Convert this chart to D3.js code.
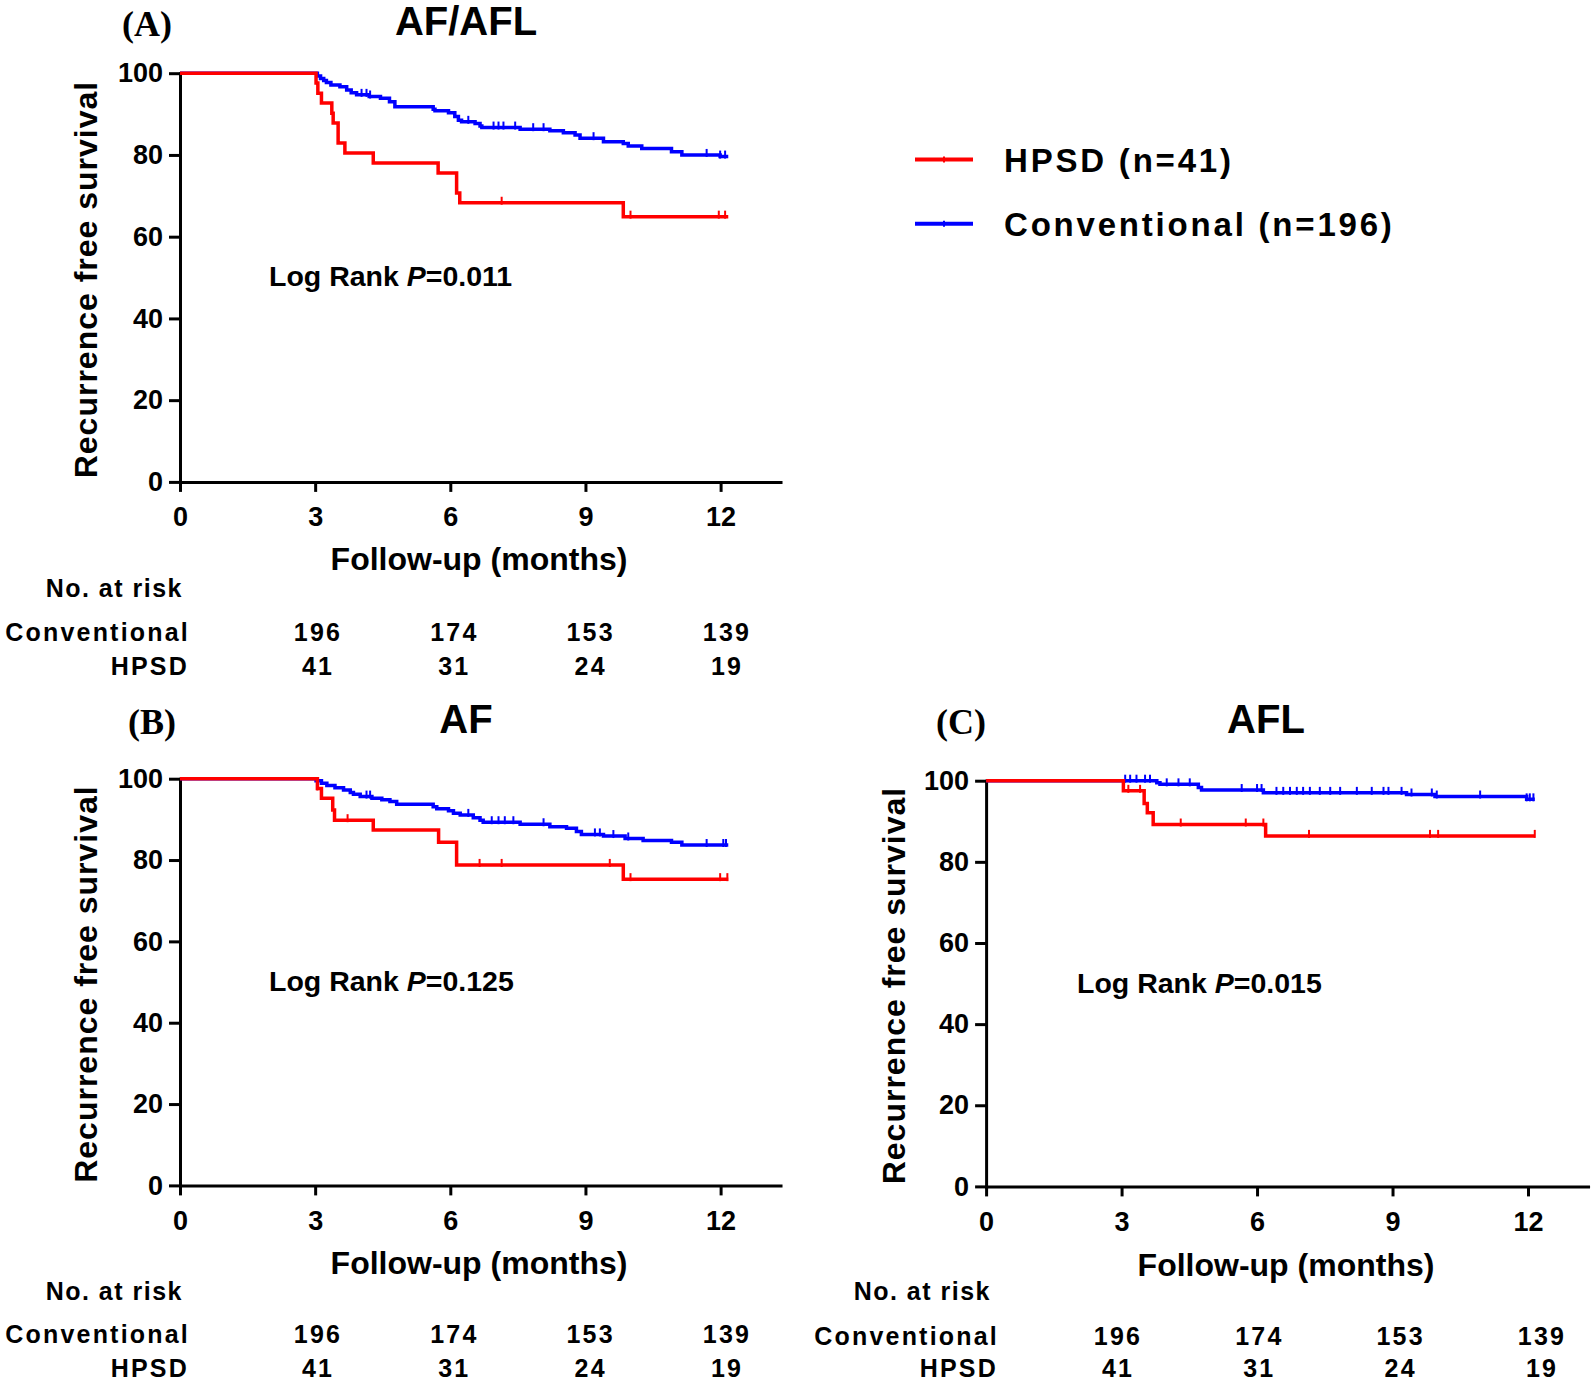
<!DOCTYPE html>
<html>
<head>
<meta charset="utf-8">
<script src="https://cdn.jsdelivr.net/npm/d3@7"></script>
<style>
  html, body { margin: 0; padding: 0; background: #fff; }
  svg { display: block; }
  text { font-family: "Liberation Sans", Arial, sans-serif; font-weight: bold; fill: #000; }
</style>
</head>
<body>
<script>
// ---------------- DATA ----------------
const xTicks = [0, 3, 6, 9, 12];
const yTicks = [0, 20, 40, 60, 80, 100];
const xAxisMax = 13.33;
const riskTimes = [3, 6, 9, 12];
const riskConventional = [196, 174, 153, 139];
const riskHPSD = [41, 31, 24, 19];
const legendLabels = ["HPSD (n=41)", "Conventional (n=196)"];
const panelLetters = ["(A)", "(B)", "(C)"];
const panelTitles = ["AF/AFL", "AF", "AFL"];
const pValues = ["0.011", "0.125", "0.015"];

// Panel A: AF/AFL  [month, survival %]
const afaflHPSD = [[0,100],[3.02,97.6],[3.06,95.1],[3.14,92.7],[3.37,90.2],[3.40,87.8],[3.51,82.9],[3.66,80.5],[4.29,78.0],[5.73,75.6],[6.14,70.7],[6.21,68.3],[9.84,64.9],[12.17,64.9]];
const afaflConv = [[0,100],[3.05,99.3],[3.12,98.7],[3.19,98.2],[3.25,97.7],[3.35,97.1],[3.55,96.7],[3.70,95.9],[3.80,95.2],[3.92,94.7],[4.20,94.3],[4.45,93.9],[4.65,93.0],[4.77,91.8],[5.62,91.2],[5.66,90.8],[5.96,90.3],[6.10,89.4],[6.18,88.5],[6.25,88.1],[6.55,87.7],[6.66,87.1],[6.70,86.7],[7.55,86.3],[8.21,85.9],[8.51,85.4],[8.77,84.9],[8.88,84.1],[9.40,83.2],[9.84,82.8],[9.95,82.2],[10.25,81.6],[10.91,80.8],[11.14,80.0],[11.99,79.6],[12.17,79.6]];
const afaflHPSDCensor = [7.14, 10.0, 11.96, 12.1];
const afaflConvCensor = [4.03, 4.14, 4.22, 6.40, 6.96, 7.07, 7.18, 7.44, 7.84, 8.07, 9.18, 11.69, 11.99, 12.1];

// Panel B: AF
const afHPSD = [[0,100],[3.05,97.6],[3.14,95.2],[3.39,92.3],[3.43,89.8],[4.29,87.4],[5.74,84.4],[6.14,78.8],[9.84,75.3],[12.17,75.3]];
const afConv = [[0,100],[3.02,99.5],[3.14,98.9],[3.26,98.3],[3.44,97.8],[3.63,97.2],[3.78,96.6],[3.85,96.2],[4.00,95.6],[4.26,95.2],[4.48,94.8],[4.66,94.4],[4.81,93.7],[5.62,93.1],[5.70,92.6],[5.96,92.1],[6.07,91.5],[6.22,91.1],[6.51,90.4],[6.66,89.8],[6.73,89.3],[7.55,88.8],[8.21,88.2],[8.58,87.8],[8.80,87.0],[8.91,86.3],[9.40,85.9],[9.88,85.3],[10.28,84.8],[10.91,84.4],[11.14,83.7],[12.17,83.7]];
const afHPSDCensor = [3.05, 3.72, 6.65, 7.14, 9.54, 10.0, 11.99, 12.15];
const afConvCensor = [4.14, 4.22, 6.40, 6.92, 7.07, 7.21, 7.40, 8.07, 9.21, 9.32, 9.62, 9.95, 11.69, 12.06, 12.12];

// Panel C: AFL
const aflHPSD = [[0,100],[3.04,97.5],[3.50,94.4],[3.57,92.1],[3.70,89.2],[6.19,86.4],[12.15,86.4]];
const aflConv = [[0,100],[3.78,99.5],[3.85,99.1],[4.70,98.3],[4.77,97.7],[6.14,97.0],[9.31,96.6],[9.94,96.1],[11.97,95.4],[12.15,95.4]];
const aflHPSDCensor = [3.15, 3.41, 4.31, 5.75, 6.14, 7.15, 9.83, 10.01, 12.15];
const aflConvCensor = [3.08, 3.19, 3.33, 3.52, 3.63, 4.0, 4.26, 4.51, 5.66, 6.0, 6.10, 6.43, 6.58, 6.73, 6.88, 7.02, 7.17, 7.39, 7.62, 7.84, 8.21, 8.54, 8.80, 8.91, 9.20, 9.42, 9.87, 9.98, 10.94, 11.97, 12.04, 12.12];

// ---------------- LAYOUT ----------------
const RED = "#ff0000", BLUE = "#0000ff";
const svg = d3.select("body").append("svg").attr("width", 1594).attr("height", 1384);

const panels = [
  { hpsd: afaflHPSD, conv: afaflConv, hc: afaflHPSDCensor, cc: afaflConvCensor,
    x0: 180, x12: 720.6, y0: 481.9, y100: 73.2,
    letterX: 147, titleX: 466, titleY: 35,
    ylabX: 97, logX: 269, logY: 286, xlabX: 479, xlabY: 570,
    riskLabelR: 190, riskNoR: 183, riskNoY: 597, riskCY: 641, riskHY: 674.5, riskX: [318, 727] },
  { hpsd: afHPSD, conv: afConv, hc: afHPSDCensor, cc: afConvCensor,
    x0: 180, x12: 720.6, y0: 1185.4, y100: 778.7,
    letterX: 152, titleX: 466, titleY: 733,
    ylabX: 97, logX: 269, logY: 991, xlabX: 479, xlabY: 1274,
    riskLabelR: 190, riskNoR: 183, riskNoY: 1299.5, riskCY: 1343, riskHY: 1377, riskX: [318, 727] },
  { hpsd: aflHPSD, conv: aflConv, hc: aflHPSDCensor, cc: aflConvCensor,
    x0: 986.1, x12: 1528, y0: 1186.4, y100: 780.7,
    letterX: 961, titleX: 1266, titleY: 733,
    ylabX: 905, logX: 1077, logY: 993, xlabX: 1286, xlabY: 1276,
    riskLabelR: 999, riskNoR: 991, riskNoY: 1299.5, riskCY: 1345, riskHY: 1377, riskX: [1118, 1542] }
];

panels.forEach((p, i) => {
  const x = d3.scaleLinear().domain([0, 12]).range([p.x0, p.x12]);
  const y = d3.scaleLinear().domain([0, 100]).range([p.y0, p.y100]);
  const g = svg.append("g");

  // titles
  g.append("text").attr("x", p.letterX).attr("y", p.titleY + 1).attr("text-anchor", "middle")
    .style("font-family", "'Liberation Serif', 'Times New Roman', serif").style("font-size", "36px")
    .text(panelLetters[i]);
  g.append("text").attr("x", p.titleX).attr("y", p.titleY).attr("text-anchor", "middle")
    .style("font-size", "40px").text(panelTitles[i]);

  // x axis
  const xAx = d3.scaleLinear().domain([0, xAxisMax]).range([p.x0, x(xAxisMax)]);
  const gx = g.append("g").attr("transform", `translate(0,${p.y0})`)
    .call(d3.axisBottom(xAx).tickValues(xTicks).tickSize(10).tickSizeOuter(0).tickPadding(15));
  // y axis
  const gy = g.append("g").attr("transform", `translate(${p.x0},0)`)
    .call(d3.axisLeft(y).tickValues(yTicks).tickSize(11).tickSizeOuter(0).tickPadding(6));
  [gx, gy].forEach(a => {
    a.select(".domain").attr("stroke", "#000").attr("stroke-width", 3).attr("stroke-linecap", "square");
    a.selectAll(".tick line").attr("stroke", "#000").attr("stroke-width", 3);
    a.selectAll(".tick text").style("font-family", "'Liberation Sans', Arial, sans-serif")
      .style("font-size", "27px").style("font-weight", "bold").attr("fill", "#000");
  });

  // y label
  g.append("text").attr("transform", `translate(${p.ylabX},${(p.y0 + p.y100) / 2 + 2}) rotate(-90)`)
    .attr("text-anchor", "middle").style("font-size", "32px").style("letter-spacing", "1px")
    .text("Recurrence free survival");
  // x label
  g.append("text").attr("x", p.xlabX).attr("y", p.xlabY).attr("text-anchor", "middle")
    .style("font-size", "32px").text("Follow-up (months)");

  // curves
  const line = d3.line().x(d => x(d[0])).y(d => y(d[1])).curve(d3.curveStepAfter);
  const stepVal = (data, t) => { let v = data[0][1]; data.forEach(d => { if (d[0] <= t) v = d[1]; }); return v; };
  [[p.conv, p.cc, BLUE], [p.hpsd, p.hc, RED]].forEach(([data, cens, col]) => {
    g.append("path").datum(data).attr("d", line).attr("fill", "none")
      .attr("stroke", col).attr("stroke-width", 3.5);
    g.selectAll(null).data(cens).enter().append("line")
      .attr("x1", t => x(t)).attr("x2", t => x(t))
      .attr("y1", t => y(stepVal(data, t)) - 6).attr("y2", t => y(stepVal(data, t)) + 2)
      .attr("stroke", col).attr("stroke-width", 2);
  });

  // log rank
  const lr = g.append("text").attr("x", p.logX).attr("y", p.logY).style("font-size", "28.5px");
  lr.append("tspan").text("Log Rank ");
  lr.append("tspan").style("font-style", "italic").text("P");
  lr.append("tspan").text("=" + pValues[i]);

  // risk table
  const rx = d3.scaleLinear().domain([3, 12]).range(p.riskX);
  const rs = "2.2px", fs = "25px";
  g.append("text").attr("x", p.riskNoR).attr("y", p.riskNoY).attr("text-anchor", "end")
    .style("font-size", fs).style("letter-spacing", "1.5px").text("No. at risk");
  g.append("text").attr("x", p.riskLabelR).attr("y", p.riskCY).attr("text-anchor", "end")
    .style("font-size", fs).style("letter-spacing", rs).text("Conventional");
  g.append("text").attr("x", p.riskLabelR - 1).attr("y", p.riskHY).attr("text-anchor", "end")
    .style("font-size", fs).style("letter-spacing", rs).text("HPSD");
  g.selectAll(null).data(riskTimes).enter().append("text")
    .attr("x", (t) => rx(t)).attr("y", p.riskCY).attr("text-anchor", "middle")
    .style("font-size", fs).style("letter-spacing", rs).text((t, j) => riskConventional[j]);
  g.selectAll(null).data(riskTimes).enter().append("text")
    .attr("x", (t) => rx(t)).attr("y", p.riskHY).attr("text-anchor", "middle")
    .style("font-size", fs).style("letter-spacing", rs).text((t, j) => riskHPSD[j]);
});

// legend
const leg = svg.append("g");
[[RED, 159.6], [BLUE, 223.7]].forEach(([col, ly], k) => {
  leg.append("line").attr("x1", 915).attr("x2", 973).attr("y1", ly).attr("y2", ly)
    .attr("stroke", col).attr("stroke-width", 4);
  leg.append("line").attr("x1", 944).attr("x2", 944).attr("y1", ly - 3).attr("y2", ly + 3)
    .attr("stroke", col).attr("stroke-width", 2);
  leg.append("text").attr("x", 1004).attr("y", ly + 12).style("font-size", "33px")
    .style("letter-spacing", "2.8px").text(legendLabels[k]);
});
</script>
</body>
</html>
